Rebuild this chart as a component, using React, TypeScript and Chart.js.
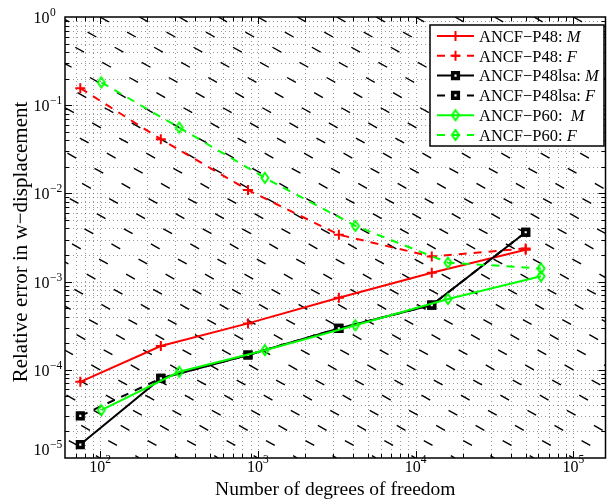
import React, { useEffect, useRef } from 'react';
import { Chart, registerables } from 'chart.js';

Chart.register(...registerables);

// Degrees of freedom for each mesh refinement level
const DOF_P48 = [75, 243, 867, 3267, 12675, 49923];
const DOF_P60 = [102, 318, 1110, 4158, 16062, 62430];

// Relative error in w-displacement (M = moment, F = force loading)
const ERR_P48_M = [7.3e-5, 1.86e-4, 3.36e-4, 6.56e-4, 1.26e-3, 2.3e-3];
const ERR_P48_F = [0.156, 0.0412, 0.0109, 3.4e-3, 1.92e-3, 2.38e-3];
const ERR_P48LSA_M = [1.42e-5, 7.98e-5, 1.47e-4, 2.95e-4, 5.42e-4, 3.63e-3];
const ERR_P48LSA_F = [3.0e-5, 7.98e-5, 1.47e-4, 2.95e-4, 5.42e-4, 3.63e-3];
const ERR_P60_M = [3.49e-5, 9.5e-5, 1.67e-4, 3.2e-4, 6.34e-4, 1.15e-3];
const ERR_P60_F = [0.181, 0.0558, 0.015, 4.28e-3, 1.64e-3, 1.41e-3];

const LEGEND_NAMES = ['ANCF\u2212P48: ', 'ANCF\u2212P48: ', 'ANCF\u2212P48lsa: ', 'ANCF\u2212P48lsa: ', 'ANCF\u2212P60:  ', 'ANCF\u2212P60: '];
const LEGEND_TAGS = ['M', 'F', 'M', 'F', 'M', 'F'];

// Axis ranges and decade labels
const X_MIN = 60;
const X_MAX = 1.6e5;
const Y_MIN = 1e-5;
const Y_MAX = 1;
const X_DECADES = [2, 3, 4, 5];
const Y_DECADES = [0, -1, -2, -3, -4, -5];

const X_TITLE = 'Number of degrees of freedom';
const Y_TITLE = 'Relative error in w\u2212displacement';

// Background guide lines err = C / dof, C = 10^k
const GUIDE_K_FIRST = -3.25;
const GUIDE_K_LAST = 5.25;
const GUIDE_K_STEP = 0.25;

const SERIF = '"Liberation Serif", "Times New Roman", Times, serif';
const RED = '#ff0000';
const BLACK = '#000000';
const GREEN = '#00ff00';
const SERIES_DASH = [8, 7];
const SQUARE_RADIUS = 4;
const SQUARE_BORDER = 3.5;

type Marker = 'cross' | 'square' | 'diamond';
interface SeriesDef {
  xs: number[];
  ys: number[];
  color: string;
  dashed: boolean;
  marker: Marker;
}

const SERIES: SeriesDef[] = [
  { xs: DOF_P48, ys: ERR_P48_M, color: RED, dashed: false, marker: 'cross' },
  { xs: DOF_P48, ys: ERR_P48_F, color: RED, dashed: true, marker: 'cross' },
  { xs: DOF_P48, ys: ERR_P48LSA_M, color: BLACK, dashed: false, marker: 'square' },
  { xs: DOF_P48, ys: ERR_P48LSA_F, color: BLACK, dashed: true, marker: 'square' },
  { xs: DOF_P60, ys: ERR_P60_M, color: GREEN, dashed: false, marker: 'diamond' },
  { xs: DOF_P60, ys: ERR_P60_F, color: GREEN, dashed: true, marker: 'diamond' },
];

function makeDiamond(color: string): HTMLCanvasElement {
  const c = document.createElement('canvas');
  c.width = 12;
  c.height = 14;
  const g = c.getContext('2d')!;
  g.strokeStyle = color;
  g.lineWidth = 1.9;
  g.beginPath();
  g.moveTo(6, 2);
  g.lineTo(9.6, 7);
  g.lineTo(6, 12);
  g.lineTo(2.4, 7);
  g.closePath();
  g.stroke();
  return c;
}

function logValues(loExp: number, hiExp: number, lo: number, hi: number) {
  const out: { v: number; major: boolean }[] = [];
  for (let e = loExp; e <= hiExp; e++) {
    for (let m = 1; m <= 9; m++) {
      const v = m * Math.pow(10, e);
      if (v > lo * (1 + 1e-9) && v < hi * (1 - 1e-9)) out.push({ v, major: m === 1 });
    }
  }
  return out;
}

const supText = (e: number) => String(e).replace('-', '\u2212');

export default function App() {
  const canvasRef = useRef<HTMLCanvasElement | null>(null);

  useEffect(() => {
    const canvas = canvasRef.current;
    if (!canvas) return;
    const diamond = makeDiamond(GREEN);

    const drawMarker = (ctx: CanvasRenderingContext2D, m: Marker, x: number, y: number, color: string) => {
      ctx.save();
      ctx.setLineDash([]);
      if (m === 'cross') {
        ctx.strokeStyle = color;
        ctx.lineWidth = 2;
        ctx.beginPath();
        ctx.moveTo(x - 5, y);
        ctx.lineTo(x + 5, y);
        ctx.moveTo(x, y - 5);
        ctx.lineTo(x, y + 5);
        ctx.stroke();
      } else if (m === 'square') {
        const s = SQUARE_RADIUS * Math.SQRT1_2;
        ctx.fillStyle = '#fff';
        ctx.strokeStyle = color;
        ctx.lineWidth = SQUARE_BORDER;
        ctx.beginPath();
        ctx.rect(x - s, y - s, 2 * s, 2 * s);
        ctx.fill();
        ctx.stroke();
      } else {
        ctx.drawImage(diamond, x - 6, y - 7);
      }
      ctx.restore();
    };

    const decor = {
      id: 'decor',
      beforeDatasetsDraw(chart: any) {
        const { ctx, chartArea: a, scales } = chart;
        const xs = scales.x;
        const ys = scales.y;
        ctx.save();
        ctx.strokeStyle = 'rgba(0,0,0,0.4)';
        ctx.lineWidth = 1;
        ctx.setLineDash([1, 3]);
        for (const t of logValues(1, 5, X_MIN, X_MAX)) {
          const px = Math.round(xs.getPixelForValue(t.v)) + 0.5;
          ctx.beginPath();
          ctx.moveTo(px, a.top);
          ctx.lineTo(px, a.bottom);
          ctx.stroke();
        }
        for (const t of logValues(-5, 0, Y_MIN, Y_MAX)) {
          const py = Math.round(ys.getPixelForValue(t.v)) + 0.5;
          ctx.beginPath();
          ctx.moveTo(a.left, py);
          ctx.lineTo(a.right, py);
          ctx.stroke();
        }
        ctx.restore();
      },
      afterDatasetsDraw(chart: any) {
        const { ctx, chartArea: a, scales } = chart;
        const xs = scales.x;
        const ys = scales.y;
        ctx.save();
        ctx.strokeStyle = '#000';
        ctx.lineWidth = 1;
        ctx.setLineDash([]);
        ctx.beginPath();
        for (const t of logValues(1, 5, X_MIN, X_MAX)) {
          const px = Math.round(xs.getPixelForValue(t.v)) + 0.5;
          const len = t.major ? 7 : 4;
          ctx.moveTo(px, a.bottom);
          ctx.lineTo(px, a.bottom - len);
          ctx.moveTo(px, a.top);
          ctx.lineTo(px, a.top + len);
        }
        for (const t of logValues(-5, 0, Y_MIN, Y_MAX)) {
          const py = Math.round(ys.getPixelForValue(t.v)) + 0.5;
          const len = t.major ? 7 : 4;
          ctx.moveTo(a.left, py);
          ctx.lineTo(a.left + len, py);
          ctx.moveTo(a.right, py);
          ctx.lineTo(a.right - len, py);
        }
        ctx.stroke();
        ctx.lineWidth = 1.5;
        ctx.strokeRect(a.left, a.top, a.right - a.left, a.bottom - a.top);
        ctx.restore();
      },
      afterDraw(chart: any) {
        const { ctx, chartArea: a, scales } = chart;
        const xs = scales.x;
        const ys = scales.y;
        ctx.save();
        ctx.fillStyle = '#000';
        ctx.textAlign = 'left';
        ctx.textBaseline = 'alphabetic';

        // y decade labels
        for (const e of Y_DECADES) {
          const py = ys.getPixelForValue(Math.pow(10, e));
          const base = Math.min(py + 6, a.bottom - 3);
          ctx.font = `16px ${SERIF}`;
          ctx.textAlign = 'right';
          ctx.fillText('10', 49.5, base);
          ctx.font = `11.5px ${SERIF}`;
          ctx.textAlign = 'left';
          ctx.fillText(supText(e), 50, base - 7);
        }

        // x decade labels
        for (const e of X_DECADES) {
          const px = xs.getPixelForValue(Math.pow(10, e));
          ctx.font = `16px ${SERIF}`;
          const w1 = ctx.measureText('10').width;
          ctx.font = `11.5px ${SERIF}`;
          const w2 = ctx.measureText(supText(e)).width;
          const x0 = px - (w1 + w2) / 2;
          ctx.textAlign = 'left';
          ctx.font = `16px ${SERIF}`;
          ctx.fillText('10', x0, a.bottom + 14);
          ctx.font = `11.5px ${SERIF}`;
          ctx.fillText(supText(e), x0 + w1, a.bottom + 4.5);
        }

        // axis titles
        ctx.font = `19.5px ${SERIF}`;
        ctx.textAlign = 'center';
        ctx.fillText(X_TITLE, (a.left + a.right) / 2, 495);
        ctx.save();
        ctx.font = `21px ${SERIF}`;
        ctx.translate(27, 242);
        ctx.rotate(-Math.PI / 2);
        ctx.fillText(Y_TITLE, 0, 0);
        ctx.restore();

        // legend
        ctx.fillStyle = '#fff';
        ctx.fillRect(430, 25, 174, 121);
        ctx.strokeStyle = '#000';
        ctx.lineWidth = 1.5;
        ctx.strokeRect(430, 25, 174, 121);
        SERIES.forEach((s, i) => {
          const y = 36 + i * 19.8;
          ctx.strokeStyle = s.color;
          ctx.lineWidth = 2;
          ctx.setLineDash(s.dashed ? SERIES_DASH : []);
          ctx.beginPath();
          ctx.moveTo(437, y);
          ctx.lineTo(474, y);
          ctx.stroke();
          ctx.setLineDash([]);
          drawMarker(ctx, s.marker, 455.5, y, s.color);
          ctx.fillStyle = '#000';
          ctx.textAlign = 'left';
          ctx.font = `16.5px ${SERIF}`;
          ctx.fillText(LEGEND_NAMES[i], 479, y + 5.7);
          const w = ctx.measureText(LEGEND_NAMES[i]).width;
          ctx.font = `italic 16.5px ${SERIF}`;
          ctx.fillText(LEGEND_TAGS[i], 479 + w, y + 5.7);
        });
        ctx.restore();
      },
    };

    const guideSets: any[] = [];
    for (let k = GUIDE_K_FIRST; k <= GUIDE_K_LAST + 1e-9; k += GUIDE_K_STEP) {
      const c = Math.pow(10, k);
      guideSets.push({
        data: [
          { x: c / Y_MAX, y: Y_MAX },
          { x: c / Y_MIN, y: Y_MIN },
        ],
        borderColor: '#000',
        borderWidth: 1.4,
        borderDash: [10, 21],
        pointRadius: 0,
        fill: false,
        clip: 0,
        order: 10,
      });
    }

    const dataSets = SERIES.map((s, i) => ({
      data: s.xs.map((x, j) => ({ x, y: s.ys[j] })),
      borderColor: s.color,
      borderWidth: 2,
      borderDash: s.dashed ? SERIES_DASH : [],
      pointStyle: s.marker === 'cross' ? 'cross' : s.marker === 'square' ? 'rect' : diamond,
      pointRadius: s.marker === 'cross' ? 5 : s.marker === 'square' ? SQUARE_RADIUS : 4.2,
      pointBorderWidth: s.marker === 'square' ? SQUARE_BORDER : 2,
      pointBorderColor: s.color,
      pointBackgroundColor: s.marker === 'square' ? '#fff' : 'rgba(0,0,0,0)',
      fill: false,
      order: 6 - i,
    }));

    const chart = new Chart(canvas, {
      type: 'line',
      data: { datasets: [...dataSets, ...guideSets] as any },
      options: {
        responsive: false,
        animation: false,
        devicePixelRatio: 1,
        events: [],
        layout: { padding: { left: 65, top: 17, right: 2, bottom: 42 } },
        elements: { line: { tension: 0 } },
        scales: {
          x: { type: 'logarithmic', min: X_MIN, max: X_MAX, display: false },
          y: { type: 'logarithmic', min: Y_MIN, max: Y_MAX, display: false },
        },
        plugins: {
          legend: { display: false },
          tooltip: { enabled: false },
        },
      },
      plugins: [decor],
    });

    return () => chart.destroy();
  }, []);

  return (
    <div style={{ position: 'fixed', left: 0, top: 0, width: 613, height: 500, background: '#fff' }}>
      <canvas ref={canvasRef} width={613} height={500} style={{ display: 'block' }} />
    </div>
  );
}
